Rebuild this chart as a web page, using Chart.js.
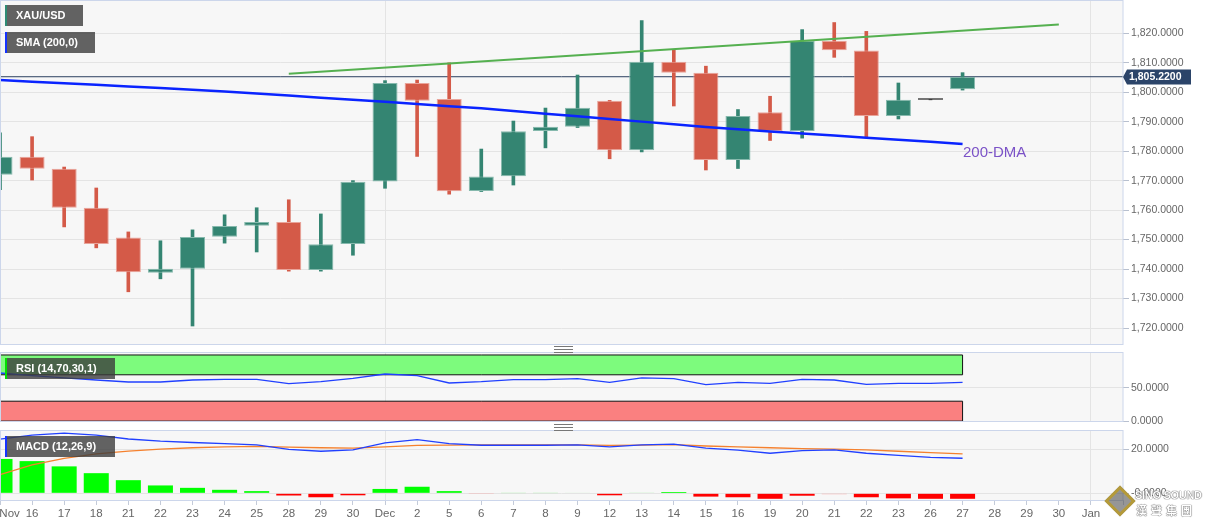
<!DOCTYPE html>
<html>
<head>
<meta charset="utf-8">
<script src="https://cdn.jsdelivr.net/npm/chart.js@4.4.1/dist/chart.umd.min.js"></script>
<style>
  html,body{margin:0;padding:0;background:#ffffff;}
  #wrap{position:relative;width:1207px;height:526px;overflow:hidden;font-family:"Liberation Sans",Arial,sans-serif;}
  canvas{position:absolute;left:0;}
  .tag{position:absolute;height:21px;line-height:21px;background:rgba(60,60,60,0.8);color:#fff;font-weight:bold;font-size:11px;padding-left:9px;box-sizing:border-box;z-index:5;white-space:nowrap;}
  .handle{position:absolute;left:554px;width:19px;height:5px;border-top:1px solid #777;border-bottom:1px solid #777;z-index:5;}
  .handle:after{content:"";position:absolute;left:0;right:0;top:2px;border-top:1px solid #777;}
  #dma{position:absolute;left:963px;top:144px;font-size:15px;line-height:15px;color:#7b52c7;z-index:5;}
  #logo{position:absolute;left:1104px;top:480px;width:103px;height:42px;z-index:5;}
  #logo .dia{position:absolute;left:5px;top:10px;width:16px;height:16px;border:3px solid #b49a3a;transform:rotate(45deg);background:rgba(80,80,80,0.6);}
  #logo .t1{position:absolute;left:31px;top:9px;font-size:11px;font-weight:bold;color:#fff;text-shadow:0 0 1px #444,0 0 1px #444;letter-spacing:-0.3px;}
  #logo .t2{position:absolute;left:32px;top:22px;font-size:11px;font-weight:bold;color:#fff;text-shadow:0 0 1px #444,0 0 1px #444;letter-spacing:4px;font-family:"Noto Sans CJK TC",sans-serif;}
</style>
</head>
<body>
<div id="wrap">
  <canvas id="main" width="1207" height="346" style="top:0"></canvas>
  <canvas id="rsi" width="1207" height="90" style="top:340px"></canvas>
  <canvas id="macd" width="1207" height="100" style="top:426px"></canvas>
  <div class="tag" style="left:5px;top:5px;width:78px;border-left:2px solid #2e8b74;">XAU/USD</div>
  <div class="tag" style="left:5px;top:32px;width:90px;border-left:2px solid #1432ff;">SMA (200,0)</div>
  <div class="tag" style="left:5px;top:358px;width:110px;border-left:2px solid #00e000;">RSI (14,70,30,1)</div>
  <div class="tag" style="left:5px;top:436px;width:110px;border-left:2px solid #1432ff;">MACD (12,26,9)</div>
  <div class="handle" style="top:346px"></div>
  <div class="handle" style="top:424px"></div>
  <div id="dma">200-DMA</div>
  <div id="logo"><div class="dia"></div><div class="t1">SINO SOUND</div><div class="t2">漢聲集團</div></div>
</div>
<script>
// ---------- data ----------
const DATES = ['Nov','16','17','18','21','22','23','24','25','28','29','30','Dec','2','5','6','7','8','9','12','13','14','15','16','19','20','21','22','23','26','27','28','29','30','Jan',''];
const MONTH_STARTS = [12, 34];

const OPEN  = [1772.0,1778.1,1774.0,1760.8,1750.7,1738.8,1740.1,1751.0,1754.7,1756.0,1739.7,1748.5,1769.7,1803.1,1797.7,1766.5,1771.5,1786.8,1788.3,1797.1,1780.3,1810.3,1806.6,1777.0,1793.2,1786.8,1817.4,1814.1,1791.9,1797.4,1801.0];
const HIGH  = [1786.2,1784.9,1774.6,1767.5,1752.6,1749.6,1753.3,1758.4,1760.8,1763.5,1758.7,1770.0,1803.9,1804.1,1809.9,1780.7,1790.2,1794.6,1805.8,1797.2,1824.3,1814.2,1808.8,1794.1,1798.6,1821.2,1823.6,1820.6,1803.1,1797.4,1806.6];
const LOW   = [1766.9,1770.2,1754.3,1747.2,1732.3,1736.7,1720.7,1748.8,1745.8,1739.3,1739.3,1744.7,1767.4,1778.2,1765.4,1766.3,1768.5,1781.1,1788.0,1777.4,1779.7,1795.3,1773.6,1774.1,1783.6,1784.4,1811.8,1784.7,1790.9,1797.4,1800.7];
const CLOSE = [1778.1,1774.0,1760.8,1748.5,1738.9,1740.1,1750.9,1754.6,1756.0,1739.7,1748.4,1769.6,1803.1,1797.1,1766.4,1771.4,1786.7,1788.3,1794.7,1780.3,1810.3,1806.6,1777.0,1791.9,1786.8,1817.4,1814.2,1791.9,1797.4,1797.4,1805.22];

const SMA200 = [1804.1,1803.56,1803.01,1802.47,1801.93,1801.39,1800.84,1800.23,1799.56,1798.84,1798.13,1797.42,1796.71,1795.96,1795.22,1794.51,1793.59,1792.71,1791.79,1790.88,1790.0,1789.08,1788.17,1787.39,1786.67,1785.96,1785.28,1784.57,1783.86,1783.15,1782.44];

const TREND_X = [9, 33];
const TREND_Y = [1806.2, 1822.9];
const LAST_PRICE = 1805.22;

const RSI = [72.7,68.6,65.2,62.1,59.1,59.1,62.1,63.0,63.0,56.5,59.5,64.5,71.2,68.6,57.6,59.5,62.6,62.6,64.1,58.5,65.2,64.1,55.0,58.5,57.0,63.0,62.1,55.5,57.0,57.0,58.5];
const RSI_OVERBOUGHT = 70, RSI_OVERSOLD = 30, RSI_TOP = 100, RSI_BOTTOM = 0;

const MACD   = [24.7,26.6,27.5,26.6,24.8,23.8,23.2,22.7,22.1,20.1,19.2,19.8,23.0,24.5,22.7,21.95,21.95,21.95,22.1,21.2,22.1,22.5,20.6,19.7,18.3,19.5,19.8,18.3,17.3,16.4,16.0];
const SIGNAL = [8.5,13.0,16.0,18.0,19.3,20.2,20.8,21.2,21.4,21.1,20.8,20.6,21.2,21.9,22.0,22.1,22.1,22.1,22.1,21.9,22.0,22.2,21.6,21.2,20.8,20.4,20.2,19.8,19.2,18.6,18.0];
const HIST   = [15.7,14.7,12.3,9.2,6.0,3.6,2.5,1.6,1.0,-1.0,-1.8,-0.9,2.0,3.0,1.0,-0.1,0.1,0.1,0.2,-0.9,0.3,0.6,-1.5,-1.8,-2.5,-1.1,-0.4,-1.8,-2.3,-2.5,-2.5];

// ---------- styles ----------
const UP = '#348572', DOWN = '#d45a48', FLAT = '#111111';
const UP_EDGE = '#86b9ad', DOWN_EDGE = '#e9a49a';
const FONT = '"Liberation Sans", Arial, sans-serif';
const PLOT_BG = '#f7f7f7', PANEL_BORDER = '#ccd6eb', GRID = '#e4e4e4';
const AXIS_W = 84;
const LAST_IDX = DATES.length - 1;

const candleColor = (i) => CLOSE[i] > OPEN[i] ? UP : (CLOSE[i] < OPEN[i] ? DOWN : FLAT);
const candleEdge = (i) => CLOSE[i] > OPEN[i] ? UP_EDGE : (CLOSE[i] < OPEN[i] ? DOWN_EDGE : FLAT);

const fmtPrice = v => v.toLocaleString('en-US',{minimumFractionDigits:4, maximumFractionDigits:4});

const panelPlugin = {
  id:'panel',
  beforeDraw(chart){
    const {ctx, chartArea:a} = chart;
    ctx.save(); ctx.fillStyle = PLOT_BG;
    ctx.fillRect(a.left, a.top, a.right-a.left, a.bottom-a.top);
    ctx.restore();
  },
  afterDraw(chart){
    const {ctx, chartArea:a} = chart;
    ctx.save(); ctx.strokeStyle = PANEL_BORDER; ctx.lineWidth = 1;
    ctx.strokeRect(Math.round(a.left)+0.5, Math.round(a.top)-0.5, Math.round(a.right-a.left)-0.5, Math.round(a.bottom-a.top)+1);
    ctx.restore();
  }
};

const priceTag = {
  id:'priceTag',
  afterDraw(chart){
    const ctx = chart.ctx;
    const y = Math.round(chart.scales.y.getPixelForValue(LAST_PRICE));
    const x0 = chart.chartArea.right;
    ctx.save();
    ctx.fillStyle = '#2b4469';
    ctx.beginPath();
    ctx.moveTo(x0, y); ctx.lineTo(x0+4, y-7.5); ctx.lineTo(x0+68, y-7.5);
    ctx.lineTo(x0+68, y+7.5); ctx.lineTo(x0+4, y+7.5); ctx.closePath(); ctx.fill();
    ctx.fillStyle = '#ffffff'; ctx.font = 'bold 10.5px ' + FONT;
    ctx.textBaseline = 'middle'; ctx.textAlign = 'left';
    ctx.fillText(fmtPrice(LAST_PRICE), x0+6, y+0.5);
    ctx.restore();
  }
};

const monthGrid = (c) => MONTH_STARTS.includes(c.index) ? GRID : 'rgba(0,0,0,0)';

function xScale(showLabels){
  return {
    type:'category', offset:false,
    grid:{offset:false, color: monthGrid, drawTicks: showLabels, tickLength:5, tickColor:'#c4cbd9'},
    border:{display:false},
    ticks:{display: showLabels, autoSkip:false, maxRotation:0, padding:2, color:'#666', font:{family:FONT, size:11.5},
      callback:(v,i)=> i === 0 ? '      ' + DATES[i] : DATES[i]},
    afterFit:(s)=>{ s.paddingLeft = 0; s.paddingRight = 0; if (showLabels) s.height = 26; }
  };
}
// hidden index axis for x/y point lines (same geometry as the category axis)
const xIndex = {type:'linear', display:false, min:0, max:LAST_IDX, offset:false};
function yFit(s){ s.width = AXIS_W; s.paddingTop = 0; s.paddingBottom = 0; }

Chart.defaults.animation = false;
Chart.defaults.font.family = FONT;

// ---------- main price panel ----------
new Chart(document.getElementById('main'), {
  type:'bar',
  data:{
    labels: DATES,
    datasets:[
      {type:'line', label:'SMA 200', data: SMA200, borderColor:'#0a24ff', borderWidth:2.5, pointRadius:0, tension:0, order:0},
      {type:'line', label:'Trend', xAxisID:'xi', data: TREND_X.map((x,i)=>({x, y:TREND_Y[i]})), borderColor:'#55b050', borderWidth:2, pointRadius:0, order:1},
      {label:'Body', data: OPEN.map((o,i)=>[o, CLOSE[i]]), backgroundColor: OPEN.map((_,i)=>candleColor(i)),
        borderColor: OPEN.map((_,i)=>candleEdge(i)), borderWidth:1, borderSkipped:false, grouped:false,
        barPercentage:0.78, categoryPercentage:1, minBarLength:1.5, order:2},
      {label:'Wick', data: LOW.map((l,i)=>[l, HIGH[i]]), backgroundColor: OPEN.map((_,i)=>candleColor(i)),
        borderWidth:0, grouped:false, barThickness:3, order:3},
      {type:'line', label:'Last', xAxisID:'xi', data:[{x:0, y:LAST_PRICE},{x:LAST_IDX, y:LAST_PRICE}], borderColor:'#2c4060', borderWidth:1, pointRadius:0, order:4}
    ]
  },
  options:{
    responsive:false, maintainAspectRatio:false, devicePixelRatio:1,
    layout:{padding:{top:1, bottom:2, left:0, right:0}},
    plugins:{legend:{display:false}, tooltip:{enabled:false}},
    scales:{
      x: xScale(false),
      xi: xIndex,
      y:{position:'right', min:1714.6, max:1830.9,
        grid:{color:GRID, tickLength:6, tickColor:'#b8c0cf'}, border:{display:false},
        afterBuildTicks:(s)=>{ s.ticks = s.ticks.filter(t => t.value >= 1720 && t.value <= 1820); },
        ticks:{stepSize:10, includeBounds:false, padding:2, color:'#666', font:{family:FONT, size:10.5}, callback:v=>fmtPrice(v)},
        afterFit: yFit}
    }
  },
  plugins:[panelPlugin, priceTag]
});

// ---------- RSI panel ----------
const seg = (x0,y0,x1,y1) => [{x:x0,y:y0},{x:x1,y:y1}];
const RL = RSI.length - 1;
new Chart(document.getElementById('rsi'), {
  type:'line',
  data:{
    labels: DATES,
    datasets:[
      {label:'RSI', data: RSI, borderColor:'#2140ff', borderWidth:1.3, pointRadius:0, tension:0, order:0},
      {label:'OB top', xAxisID:'xi', data: seg(0,RSI_TOP,RL,RSI_TOP), borderColor:'#111', borderWidth:1, pointRadius:0, order:5},
      {label:'OB', xAxisID:'xi', data: seg(0,RSI_OVERBOUGHT,RL,RSI_OVERBOUGHT), borderColor:'#111', borderWidth:1, pointRadius:0,
        fill:{value:RSI_TOP}, backgroundColor:'#7dfb7d', order:6},
      {label:'OB edge', xAxisID:'xi', data: seg(RL,RSI_OVERBOUGHT,RL,RSI_TOP), borderColor:'#111', borderWidth:1, pointRadius:0, order:5},
      {label:'OS', xAxisID:'xi', data: seg(0,RSI_OVERSOLD,RL,RSI_OVERSOLD), borderColor:'#111', borderWidth:1, pointRadius:0,
        fill:{value:RSI_BOTTOM}, backgroundColor:'#fa8080', order:6},
      {label:'OS bottom', xAxisID:'xi', data: seg(0,RSI_BOTTOM,RL,RSI_BOTTOM), borderColor:'#333', borderWidth:1, pointRadius:0, order:5},
      {label:'OS edge', xAxisID:'xi', data: seg(RL,RSI_BOTTOM,RL,RSI_OVERSOLD), borderColor:'#111', borderWidth:1, pointRadius:0, order:5}
    ]
  },
  options:{
    responsive:false, maintainAspectRatio:false, devicePixelRatio:1,
    layout:{padding:{top:13, bottom:9, left:0, right:0}},
    plugins:{legend:{display:false}, tooltip:{enabled:false}},
    scales:{
      x: xScale(false),
      xi: xIndex,
      y:{position:'right', min:0, max:103,
        grid:{color:GRID, tickLength:6, tickColor:'#b8c0cf'}, border:{display:false},
        afterBuildTicks:(s)=>{ s.ticks = [{value:0},{value:50}]; },
        ticks:{padding:2, color:'#666', font:{family:FONT, size:10.5}, callback:v=>Number(v).toFixed(4)},
        afterFit: yFit}
    }
  },
  plugins:[panelPlugin]
});

// ---------- MACD panel ----------
const histColor = HIST.map(v => v >= 0 ? (Math.abs(v) < 0.5 ? '#9cf09c' : '#00ff00') : (Math.abs(v) < 0.5 ? '#ff9c9c' : '#ff0000'));
new Chart(document.getElementById('macd'), {
  type:'bar',
  data:{
    labels: DATES,
    datasets:[
      {type:'line', label:'MACD', data: MACD, borderColor:'#2140ff', borderWidth:1.3, pointRadius:0, tension:0, order:0},
      {type:'line', label:'Signal', data: SIGNAL, borderColor:'#f5812e', borderWidth:1.3, pointRadius:0, tension:0, order:1},
      {label:'Histogram', data: HIST, backgroundColor: histColor, borderWidth:0, grouped:false,
        barPercentage:0.78, categoryPercentage:1, order:2}
    ]
  },
  options:{
    responsive:false, maintainAspectRatio:false, devicePixelRatio:1,
    layout:{padding:{top:5, bottom:0, left:0, right:0}},
    plugins:{legend:{display:false}, tooltip:{enabled:false}},
    scales:{
      x: xScale(true),
      y:{position:'right', min:-3.05, max:28.45,
        grid:{color:GRID, tickLength:6, tickColor:'#b8c0cf'}, border:{display:false},
        afterBuildTicks:(s)=>{ s.ticks = [{value:0},{value:20}]; },
        ticks:{padding:2, color:'#666', font:{family:FONT, size:10.5}, callback:v=> v === 0 ? '-0.0000' : Number(v).toFixed(4)},
        afterFit: yFit}
    }
  },
  plugins:[panelPlugin]
});
</script>
</body>
</html>
